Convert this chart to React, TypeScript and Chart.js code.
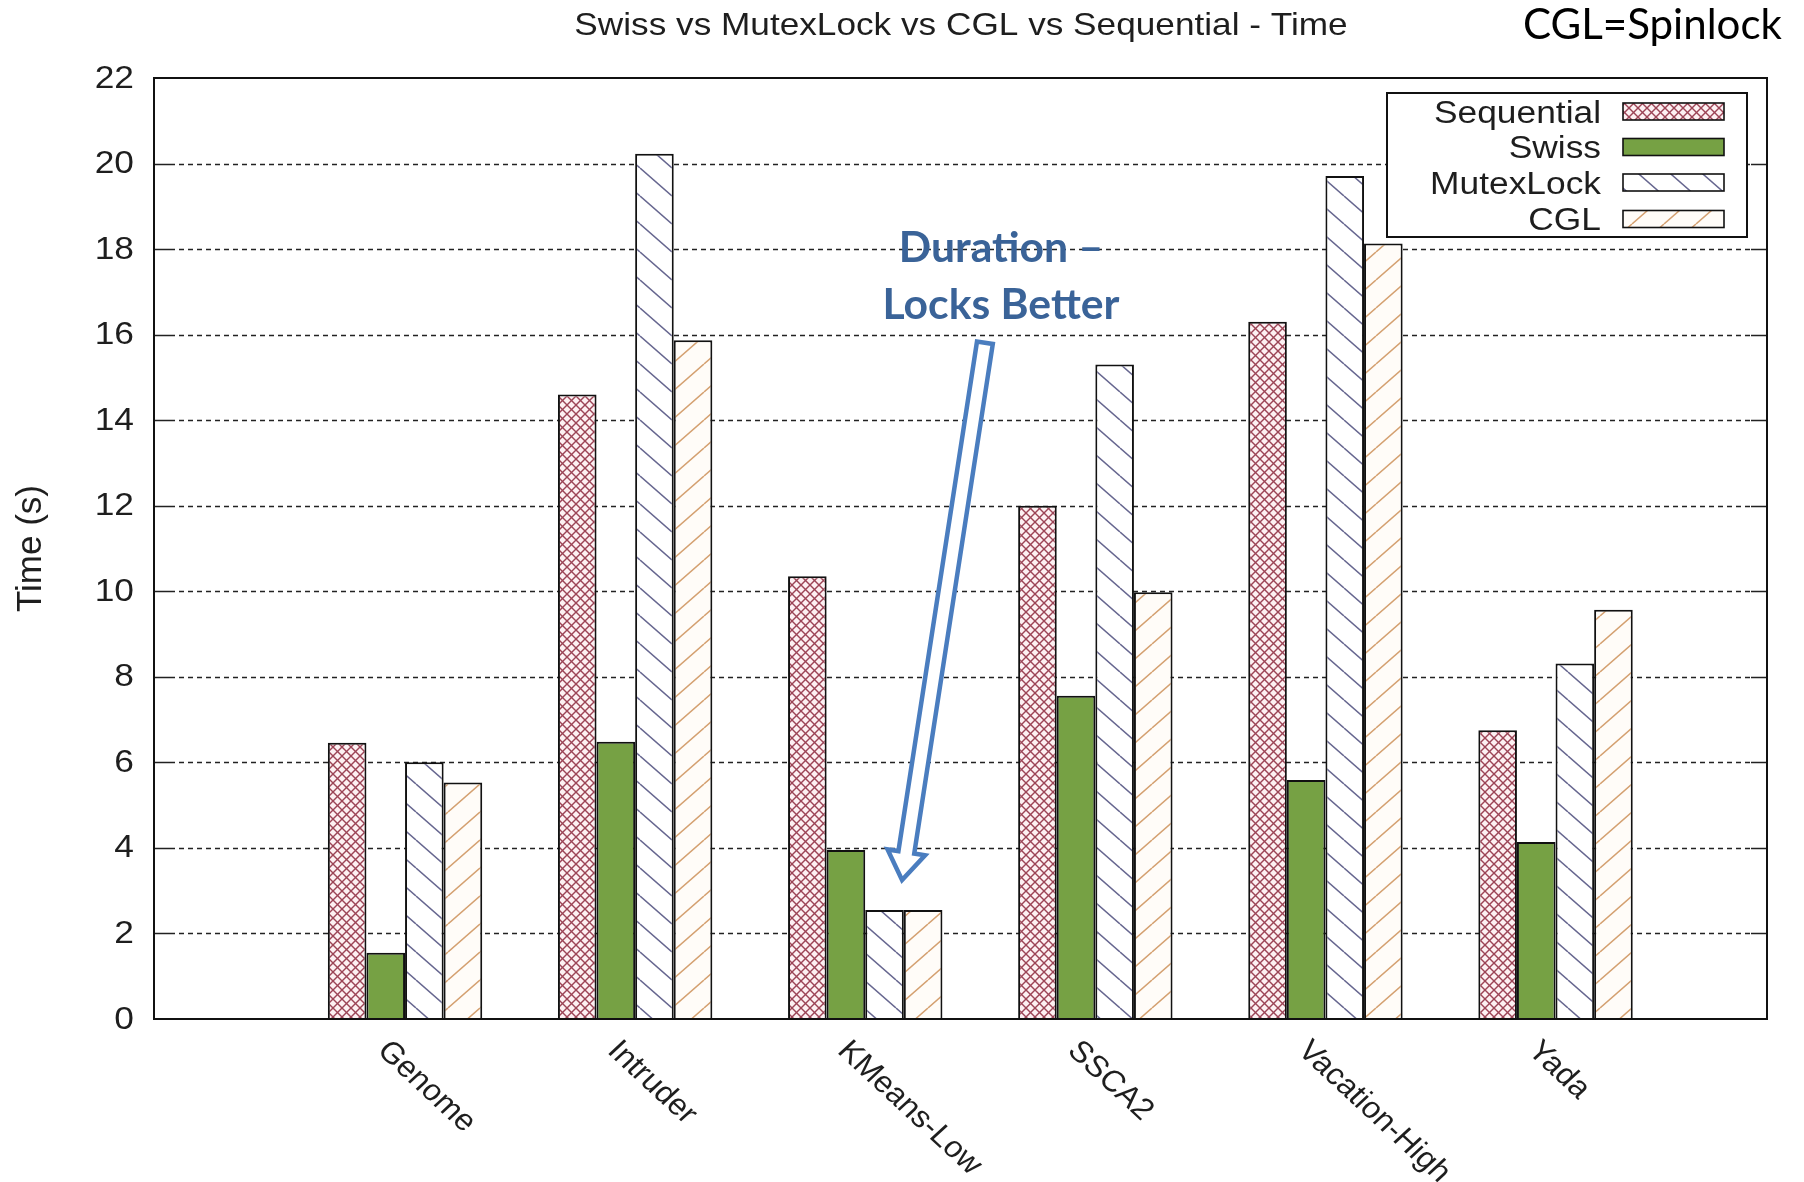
import React, { useEffect, useRef } from "react";
import { Chart, registerables } from "chart.js";

Chart.register(...registerables);

// ---------- data ----------
const categories = ["Genome", "Intruder", "KMeans-Low", "SSCA2", "Vacation-High", "Yada"];
const seriesNames = ["Sequential", "Swiss", "MutexLock", "CGL"];
const sequential = [6.46, 14.6, 10.35, 12.0, 16.3, 6.75];
const swiss = [1.55, 6.48, 3.95, 7.56, 5.59, 4.14];
const mutexLock = [6.0, 20.23, 2.55, 15.3, 19.71, 8.31];
const cgl = [5.53, 15.87, 2.55, 9.98, 18.13, 9.57];
const yTicks = [0, 2, 4, 6, 8, 10, 12, 14, 16, 18, 20, 22];
const titleText = "Swiss vs MutexLock vs CGL vs Sequential - Time";
const noteText = "CGL=Spinlock";
const yAxisTitle = "Time (s)";
const calloutLines = ["Duration \u2013", "Locks Better"];

// ---------- layout / style constants ----------
const W = 1804;
const H = 1182;
const X_MIN = -1.091;
const X_MAX = 5.919;
const ARROW_TAIL = { x: 2.52, y: 15.81 };
const ARROW_TIP = { x: 2.16, y: 3.25 };
const CALLOUT_X = 2.59;
const CALLOUT_BASE_Y = [17.7, 16.37];

const TEXT = "#1e1e1e";
const SANS = "'Liberation Sans', Arial, sans-serif";

function makeCrossHatch(): CanvasPattern | string {
  const c = document.createElement("canvas");
  const s = 9;
  c.width = s;
  c.height = s;
  const g = c.getContext("2d");
  if (!g) return "#f4d0d6";
  g.fillStyle = "#fdf0f2";
  g.fillRect(0, 0, s, s);
  g.strokeStyle = "#9c4456";
  g.lineWidth = 1.4;
  for (const k of [-1, 0, 1]) {
    g.beginPath();
    g.moveTo(k * s, 0);
    g.lineTo(k * s + s, s);
    g.stroke();
    g.beginPath();
    g.moveTo(k * s, s);
    g.lineTo(k * s + s, 0);
    g.stroke();
  }
  return g.createPattern(c, "repeat") || "#f4d0d6";
}

function makeStripes(color: string, bg: string, back: boolean): CanvasPattern | string {
  const c = document.createElement("canvas");
  const w = 32;
  const h = 28;
  c.width = w;
  c.height = h;
  const g = c.getContext("2d");
  if (!g) return bg;
  g.fillStyle = bg;
  g.fillRect(0, 0, w, h);
  g.strokeStyle = color;
  g.lineWidth = 1.5;
  for (const k of [-1, 0, 1]) {
    g.beginPath();
    if (back) {
      g.moveTo(0, k * h);
      g.lineTo(w, k * h + h);
    } else {
      g.moveTo(0, k * h + h);
      g.lineTo(w, k * h);
    }
    g.stroke();
  }
  return g.createPattern(c, "repeat") || bg;
}

function drawText(
  ctx: CanvasRenderingContext2D,
  text: string,
  x: number,
  y: number,
  font: string,
  align: CanvasTextAlign,
  baseline: CanvasTextBaseline,
  sx: number,
  rot: number,
  color: string
) {
  ctx.save();
  ctx.translate(x, y);
  ctx.scale(sx, 1);
  if (rot) ctx.rotate(rot);
  ctx.font = font;
  ctx.textAlign = align;
  ctx.textBaseline = baseline;
  ctx.fillStyle = color;
  ctx.fillText(text, 0, 0);
  ctx.restore();
}

function fitSize(ctx: CanvasRenderingContext2D, text: string, family: string, weight: string, target: number) {
  ctx.save();
  ctx.font = `${weight} 100px ${family}`;
  const w = ctx.measureText(text).width;
  ctx.restore();
  return (100 * target) / w;
}

export default function App() {
  const ref = useRef<HTMLCanvasElement | null>(null);

  useEffect(() => {
    document.body.style.margin = "0";
    const canvas = ref.current;
    if (!canvas) return;

    const fills = [
      makeCrossHatch(),
      "#76a144",
      makeStripes("#66668f", "#ffffff", true),
      makeStripes("#d4a070", "#fffcf8", false),
    ];
    const values = [sequential, swiss, mutexLock, cgl];

    const gridPlugin = {
      id: "gnuGrid",
      beforeDatasetsDraw(chart: any) {
        const { ctx, chartArea } = chart;
        const { left, right } = chartArea;
        const ys = chart.scales.y;
        ctx.save();
        ctx.strokeStyle = "#222";
        for (const v of yTicks) {
          if (v === yTicks[0] || v === yTicks[yTicks.length - 1]) continue;
          const py = Math.round(ys.getPixelForValue(v)) + 0.5;
          ctx.lineWidth = 1.3;
          ctx.setLineDash([5, 4]);
          ctx.beginPath();
          ctx.moveTo(left + 16, py);
          ctx.lineTo(right - 16, py);
          ctx.stroke();
          ctx.setLineDash([]);
          ctx.lineWidth = 1.6;
          ctx.beginPath();
          ctx.moveTo(left, py);
          ctx.lineTo(left + 16, py);
          ctx.moveTo(right - 16, py);
          ctx.lineTo(right, py);
          ctx.stroke();
        }
        ctx.restore();
      },
    };

    const decoPlugin = {
      id: "gnuDeco",
      afterDatasetsDraw(chart: any) {
        const { ctx, chartArea } = chart;
        const { left, right, top, bottom } = chartArea;
        const xs = chart.scales.x;
        const ys = chart.scales.y;
        ctx.save();

        // frame
        ctx.strokeStyle = "#111";
        ctx.lineWidth = 2;
        ctx.strokeRect(left, top, right - left, bottom - top);

        // y tick labels
        for (const v of yTicks) {
          drawText(ctx, String(v), left - 20, ys.getPixelForValue(v) + 1, `31px ${SANS}`, "right", "middle", 1.14, 0, TEXT);
        }

        // y axis title
        drawText(ctx, yAxisTitle, 31, (top + bottom) / 2, `35px ${SANS}`, "center", "middle", 1, -Math.PI / 2, TEXT);

        // x category labels (rotated)
        categories.forEach((c, i) => {
          const px = xs.getPixelForValue(i);
          drawText(ctx, c, px - 29, bottom + 33, `30px ${SANS}`, "left", "alphabetic", 1.08, Math.PI / 4, TEXT);
        });

        // title
        drawText(ctx, titleText, 961, 35, `32px ${SANS}`, "center", "alphabetic", 1.1, 0, TEXT);

        // note at top right
        const noteSize = fitSize(ctx, noteText, "Lato, sans-serif", "normal", 259);
        drawText(ctx, noteText, 1523, 39, `normal ${noteSize}px Lato, sans-serif`, "left", "alphabetic", 1, 0, "#000");

        // legend
        const lb = { x: 1387, y: 93, w: 360, h: 144 };
        ctx.fillStyle = "#fff";
        ctx.fillRect(lb.x, lb.y, lb.w, lb.h);
        ctx.strokeStyle = "#111";
        ctx.lineWidth = 2;
        ctx.strokeRect(lb.x, lb.y, lb.w, lb.h);
        const rows = [111.5, 147, 182.5, 219];
        seriesNames.forEach((name, i) => {
          const cy = rows[i];
          drawText(ctx, name, 1601, cy + 11, `31px ${SANS}`, "right", "alphabetic", 1.14, 0, TEXT);
          ctx.fillStyle = fills[i] as any;
          ctx.fillRect(1623, cy - 8.5, 101, 17);
          ctx.strokeStyle = "#111";
          ctx.lineWidth = 1.6;
          ctx.strokeRect(1623, cy - 8.5, 101, 17);
        });

        // callout text
        const cs = fitSize(ctx, calloutLines[1], "Lato, sans-serif", "bold", 237);
        const cx = xs.getPixelForValue(CALLOUT_X);
        calloutLines.forEach((t, i) => {
          drawText(ctx, t, cx, ys.getPixelForValue(CALLOUT_BASE_Y[i]), `bold ${cs}px Lato, sans-serif`, "center", "alphabetic", 1, 0, "#3a6398");
        });

        // block arrow
        const T = { x: xs.getPixelForValue(ARROW_TAIL.x), y: ys.getPixelForValue(ARROW_TAIL.y) };
        const P = { x: xs.getPixelForValue(ARROW_TIP.x), y: ys.getPixelForValue(ARROW_TIP.y) };
        const dx = P.x - T.x;
        const dy = P.y - T.y;
        const len = Math.hypot(dx, dy);
        const u = { x: dx / len, y: dy / len };
        const v = { x: -u.y, y: u.x };
        const hw = 8;
        const hh = 19;
        const hl = 28;
        const B = { x: P.x - u.x * hl, y: P.y - u.y * hl };
        const pts = [
          [T.x + v.x * hw, T.y + v.y * hw],
          [B.x + v.x * hw, B.y + v.y * hw],
          [B.x + v.x * hh, B.y + v.y * hh],
          [P.x, P.y],
          [B.x - v.x * hh, B.y - v.y * hh],
          [B.x - v.x * hw, B.y - v.y * hw],
          [T.x - v.x * hw, T.y - v.y * hw],
        ];
        ctx.beginPath();
        pts.forEach(([px, py], i) => (i === 0 ? ctx.moveTo(px, py) : ctx.lineTo(px, py)));
        ctx.closePath();
        ctx.fillStyle = "#fff";
        ctx.fill();
        ctx.strokeStyle = "#4a7dbf";
        ctx.lineWidth = 4.5;
        ctx.lineJoin = "miter";
        ctx.stroke();

        ctx.restore();
      },
    };

    const chart = new Chart(canvas, {
      type: "bar",
      data: {
        datasets: seriesNames.map((name, i) => ({
          label: name,
          data: values[i].map((y, x) => ({ x, y })),
          backgroundColor: fills[i] as any,
          borderColor: "#111",
          borderWidth: 2,
          borderSkipped: "bottom",
          categoryPercentage: 0.671,
          barPercentage: 1.0,
        })),
      },
      options: {
        responsive: false,
        animation: false,
        layout: { padding: { left: 0, right: 37, top: 78, bottom: 0 } },
        plugins: {
          legend: { display: false },
          title: { display: false },
          tooltip: { enabled: false },
        },
        scales: {
          x: {
            type: "linear",
            min: X_MIN,
            max: X_MAX,
            offset: false,
            grid: { display: false },
            border: { display: false },
            ticks: { display: false },
            afterBuildTicks: (s: any) => {
              s.ticks = categories.map((_, i) => ({ value: i }));
            },
            afterFit: (s: any) => {
              s.height = 163;
            },
          },
          y: {
            min: yTicks[0],
            max: yTicks[yTicks.length - 1],
            ticks: { stepSize: 2, display: false },
            grid: { display: false },
            border: { display: false },
            afterFit: (s: any) => {
              s.width = 154;
            },
          },
        },
      },
      plugins: [gridPlugin, decoPlugin],
    } as any);

    if ((document as any).fonts && (document as any).fonts.ready) {
      (document as any).fonts.ready.then(() => chart.draw());
    }

    return () => chart.destroy();
  }, []);

  return (
    <div style={{ position: "absolute", left: 0, top: 0, width: W, height: H, background: "#fff" }}>
      <canvas ref={ref} width={W} height={H} style={{ width: W, height: H, display: "block" }} />
    </div>
  );
}
